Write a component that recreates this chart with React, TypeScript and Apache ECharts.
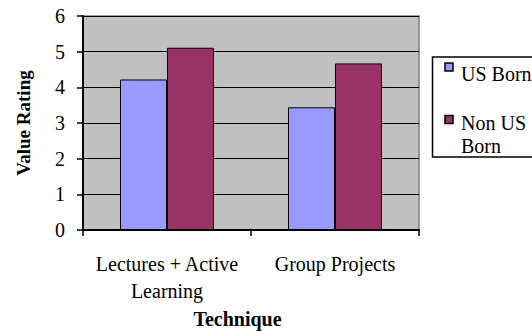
import React, { useEffect, useRef } from "react";
import * as echarts from "echarts";

const categories = ["Lectures + Active\nLearning", "Group Projects"];
const seriesNames = ["US Born", "Non US\nBorn"];
const usBorn = [4.22, 3.44];
const nonUsBorn = [5.11, 4.67];
const colors = ["#9999FF", "#993366"];
const yTicks = [0, 1, 2, 3, 4, 5, 6];

const FONT = "Liberation Serif";

export default function App() {
  const ref = useRef<HTMLDivElement>(null);
  useEffect(() => {
    if (!ref.current) return;
    const chart = echarts.init(ref.current, null, { renderer: "svg" });
    const legendItems: any[] = [];
    const iconTops = [63, 115.5];
    const textTops = [62, 111];
    seriesNames.forEach((n, i) => {
      legendItems.push({
        type: "rect",
        shape: { x: 445, y: iconTops[i], width: 8, height: 8 },
        style: { fill: colors[i], stroke: "#000", lineWidth: 1.5 },
      });
      legendItems.push({
        type: "text",
        x: 461,
        y: textTops[i],
        style: {
          text: n,
          font: "20px " + FONT,
          lineHeight: 23,
          fill: "#000",
          align: "left",
          verticalAlign: "top",
        },
      });
    });
    chart.setOption({
      animation: false,
      textStyle: { fontFamily: FONT },
      grid: {
        left: 83,
        right: 113,
        top: 16,
        bottom: 101,
        show: true,
        backgroundColor: "#C0C0C0",
        borderColor: "#808080",
        borderWidth: 1.5,
      },
      xAxis: {
        type: "category",
        data: categories,
        axisLine: { lineStyle: { color: "#000", width: 2 } },
        axisTick: { show: true, length: 6, lineStyle: { color: "#000", width: 1.5 } },
        axisLabel: {
          interval: 0,
          color: "#000",
          fontFamily: FONT,
          fontSize: 20,
          lineHeight: 27,
          margin: 20,
        },
      },
      yAxis: {
        type: "value",
        min: 0,
        max: 6,
        interval: 1,
        name: "Value Rating",
        nameLocation: "middle",
        nameGap: 50,
        nameRotate: 90,
        nameTextStyle: { fontFamily: FONT, fontSize: 19, fontWeight: "bold", color: "#000" },
        axisLine: { show: true, lineStyle: { color: "#000", width: 2 } },
        axisTick: { show: true, length: 6, lineStyle: { color: "#000", width: 1.5 } },
        axisLabel: {
          color: "#000",
          fontFamily: FONT,
          fontSize: 20,
          margin: 18,
          formatter: (v: number) => (yTicks.includes(v) ? String(v) : ""),
        },
        splitLine: { show: true, lineStyle: { color: "#000", width: 1 } },
      },
      series: [
        {
          name: seriesNames[0],
          type: "bar",
          data: usBorn,
          barWidth: 47,
          barGap: "0%",
          itemStyle: { color: colors[0], borderColor: "#000", borderWidth: 1 },
        },
        {
          name: seriesNames[1],
          type: "bar",
          data: nonUsBorn,
          barWidth: 47,
          barGap: "0%",
          itemStyle: { color: colors[1], borderColor: "#000", borderWidth: 1 },
        },
      ],
      graphic: [
        {
          type: "rect",
          shape: { x: 432.5, y: 57, width: 110, height: 100 },
          style: { fill: "#fff", stroke: "#000", lineWidth: 1.5 },
        },
        ...legendItems,
        {
          type: "text",
          x: 237.5,
          y: 319,
          style: {
            text: "Technique",
            font: "bold 20px " + FONT,
            fill: "#000",
            align: "center",
            verticalAlign: "middle",
          },
        },
      ],
    });
    return () => chart.dispose();
  }, []);
  return (
    <div
      ref={ref}
      style={{ position: "fixed", left: 0, top: 0, width: 532, height: 331, background: "#fff" }}
    />
  );
}
